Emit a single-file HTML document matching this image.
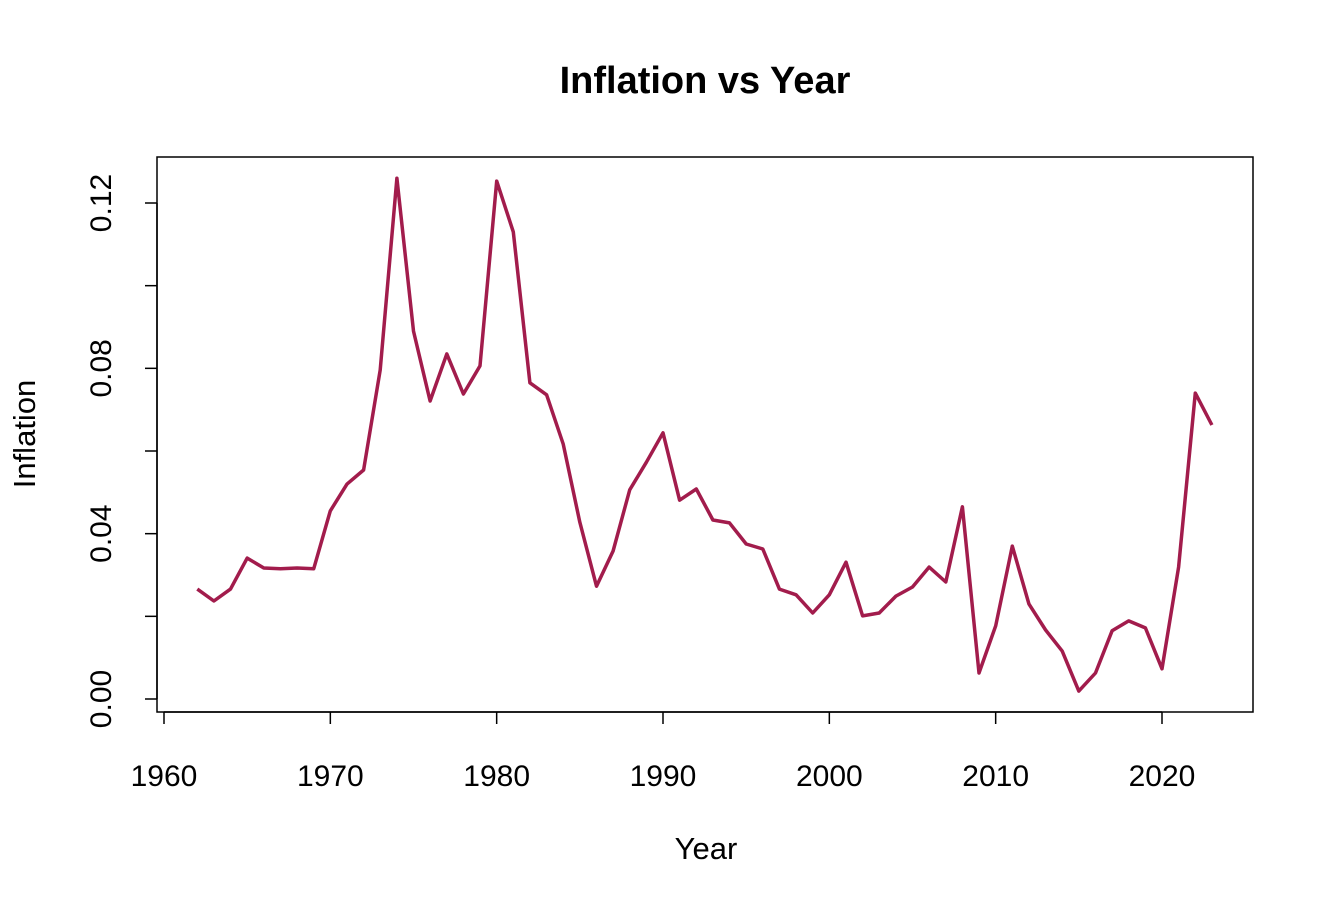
<!DOCTYPE html>
<html><head><meta charset="utf-8"><style>
body{margin:0;background:#fff}
svg text{font-family:"Liberation Sans",Arial,sans-serif;fill:#000}
</style></head><body>
<svg width="1334" height="908" xmlns="http://www.w3.org/2000/svg">
<text x="705" y="93" font-size="38" font-weight="bold" text-anchor="middle">Inflation vs Year</text>
<rect x="157" y="157" width="1096" height="555" fill="none" stroke="#000" stroke-width="1.5"/>
<g id="xaxis"></g>
<g id="yaxis"></g>
<text x="706" y="859" font-size="31" text-anchor="middle">Year</text>
<text transform="translate(35,434) rotate(-90)" font-size="31" text-anchor="middle">Inflation</text>
<path id="line" fill="none" stroke="#a21c4c" stroke-width="3.5" stroke-linejoin="round"/>
</svg>
<script>
const years=[];for(let y=1962;y<=2023;y++)years.push(y);
const inflation=[0.0266,0.0237,0.0266,0.0341,0.0317,0.0315,0.0317,0.0315,0.0455,0.052,0.0554,0.0796,0.126,0.089,0.0721,0.0835,0.0738,0.0806,0.1253,0.113,0.0765,0.0736,0.0617,0.0428,0.0273,0.0358,0.0506,0.0573,0.0644,0.0481,0.0508,0.0433,0.0426,0.0375,0.0363,0.0266,0.0252,0.0208,0.0252,0.0331,0.0201,0.0208,0.0249,0.0271,0.0319,0.0283,0.0465,0.0063,0.0177,0.037,0.023,0.0167,0.0116,0.0019,0.0063,0.0165,0.0189,0.0172,0.0073,0.0319,0.074,0.0663];
const xTicks=[1960,1970,1980,1990,2000,2010,2020];
const yTicks=[0,0.02,0.04,0.06,0.08,0.1,0.12];
const yLabels=["0.00","","0.04","","0.08","","0.12"];
const X=v=>164+(v-1960)*998/60;
const Y=v=>699-v*4133.3;
const NS="http://www.w3.org/2000/svg";
function mk(t,a,p){const e=document.createElementNS(NS,t);for(const k in a)e.setAttribute(k,a[k]);p.appendChild(e);return e;}
const xa=document.getElementById('xaxis'),ya=document.getElementById('yaxis');
mk('line',{x1:X(1960),x2:X(2020),y1:712,y2:712,stroke:'#000','stroke-width':1.5},xa);
xTicks.forEach(t=>{const l=mk('line',{x1:X(t),x2:X(t),y1:712,y2:724,stroke:'#000','stroke-width':1.5},xa);


const tx=mk('text',{x:X(t),y:786,'font-size':30,'text-anchor':'middle'},xa);tx.textContent=t;

});
mk('line',{x1:157,x2:157,y1:Y(0),y2:Y(0.12),stroke:'#000','stroke-width':1.5},ya);
yTicks.forEach((t,i)=>{const l=mk('line',{x1:145,x2:157,y1:Y(t),y2:Y(t),stroke:'#000','stroke-width':1.5},ya);


if(yLabels[i]){const tx=mk('text',{transform:`translate(111,${Y(t)}) rotate(-90)`,'font-size':30,'text-anchor':'middle'},ya);tx.textContent=yLabels[i];

}});
document.getElementById('line').setAttribute('d',years.map((y,i)=>(i?'L':'M')+X(y).toFixed(1)+','+Y(inflation[i]).toFixed(1)).join(''));
</script>
</body></html>
